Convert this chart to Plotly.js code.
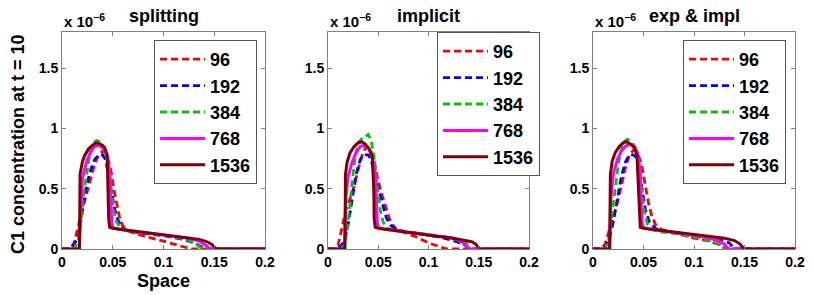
<!DOCTYPE html>
<html><head><meta charset="utf-8">
<script src="https://cdn.plot.ly/plotly-3.0.1.min.js"></script>
<style>html,body{margin:0;padding:0;background:#fff}#chart{width:814px;height:295px}</style>
</head><body><div id="chart"></div>
<script>
// Series labels (grid sizes) and panel titles
const seriesNames = ["96", "192", "384", "768", "1536"];
const panelTitles = ["splitting", "implicit", "exp & impl"];
const xTickVals = [0, 0.05, 0.1, 0.15, 0.2];
const yTickVals = [0, 0.5, 1, 1.5];

// Values are C1 concentration in units of 1e-6
// ---- Panel 1: splitting ----
const split96x = [0, 0.008, 0.012, 0.016, 0.02, 0.024, 0.028, 0.032, 0.036, 0.04, 0.044, 0.048, 0.051, 0.054, 0.057, 0.06, 0.065, 0.075, 0.09, 0.1, 0.11, 0.12, 0.128, 0.2];
const split96y = [0, 0, 0.05, 0.2, 0.33, 0.45, 0.58, 0.7, 0.78, 0.81, 0.79, 0.66, 0.5, 0.36, 0.25, 0.19, 0.15, 0.12, 0.09, 0.065, 0.04, 0.018, 0, 0];
const split192x = [0, 0.005, 0.01, 0.015, 0.018, 0.021, 0.024, 0.028, 0.032, 0.036, 0.04, 0.043, 0.046, 0.049, 0.052, 0.055, 0.06, 0.065, 0.08, 0.1, 0.12, 0.13, 0.137, 0.142, 0.2];
const split192y = [0, 0, 0.02, 0.08, 0.2, 0.38, 0.52, 0.65, 0.74, 0.78, 0.78, 0.74, 0.6, 0.45, 0.33, 0.24, 0.17, 0.15, 0.13, 0.11, 0.08, 0.05, 0.02, 0, 0];
const split384x = [0, 0.012, 0.016, 0.019, 0.022, 0.025, 0.028, 0.031, 0.034, 0.038, 0.042, 0.045, 0.048, 0.051, 0.054, 0.058, 0.065, 0.08, 0.1, 0.12, 0.13, 0.135, 0.138, 0.2];
const split384y = [0, 0, 0.08, 0.25, 0.5, 0.68, 0.82, 0.88, 0.9, 0.89, 0.84, 0.72, 0.5, 0.32, 0.22, 0.17, 0.15, 0.135, 0.115, 0.085, 0.055, 0.025, 0, 0];
const split768x = [0, 0.017, 0.0185, 0.02, 0.024, 0.028, 0.032, 0.036, 0.04, 0.044, 0.047, 0.048, 0.049, 0.05, 0.055, 0.07, 0.09, 0.11, 0.125, 0.135, 0.142, 0.146, 0.2];
const split768y = [0, 0, 0.3, 0.58, 0.72, 0.8, 0.85, 0.86, 0.84, 0.78, 0.65, 0.4, 0.22, 0.18, 0.165, 0.15, 0.13, 0.11, 0.09, 0.065, 0.03, 0, 0];
const split1536x = [0, 0.0172, 0.0178, 0.02, 0.022, 0.026, 0.03, 0.034, 0.038, 0.042, 0.0445, 0.0455, 0.046, 0.047, 0.05, 0.06, 0.075, 0.09, 0.105, 0.12, 0.135, 0.143, 0.148, 0.152, 0.2];
const split1536y = [0, 0, 0.62, 0.72, 0.77, 0.83, 0.86, 0.88, 0.87, 0.84, 0.78, 0.5, 0.25, 0.18, 0.172, 0.16, 0.145, 0.13, 0.115, 0.1, 0.08, 0.06, 0.035, 0, 0];

// ---- Panel 2: implicit ----
const impl96x = [0, 0.006, 0.01, 0.014, 0.018, 0.022, 0.026, 0.03, 0.034, 0.038, 0.042, 0.046, 0.05, 0.054, 0.058, 0.062, 0.068, 0.075, 0.088, 0.1, 0.11, 0.118, 0.2];
const impl96y = [0, 0, 0.03, 0.18, 0.33, 0.42, 0.52, 0.66, 0.78, 0.85, 0.83, 0.72, 0.56, 0.44, 0.33, 0.23, 0.16, 0.14, 0.1, 0.05, 0.02, 0, 0];
const impl192x = [0, 0.008, 0.012, 0.016, 0.02, 0.024, 0.028, 0.032, 0.035, 0.04, 0.043, 0.046, 0.05, 0.054, 0.058, 0.063, 0.07, 0.09, 0.11, 0.125, 0.135, 0.141, 0.2];
const impl192y = [0, 0, 0.02, 0.06, 0.2, 0.42, 0.62, 0.74, 0.78, 0.78, 0.74, 0.62, 0.5, 0.36, 0.26, 0.19, 0.155, 0.13, 0.1, 0.07, 0.04, 0, 0];
const impl384x = [0, 0.014, 0.018, 0.021, 0.024, 0.027, 0.03, 0.034, 0.037, 0.04, 0.043, 0.046, 0.049, 0.052, 0.055, 0.06, 0.07, 0.09, 0.11, 0.125, 0.135, 0.14, 0.144, 0.2];
const impl384y = [0, 0, 0.1, 0.3, 0.55, 0.76, 0.88, 0.92, 0.93, 0.95, 0.9, 0.75, 0.52, 0.32, 0.22, 0.17, 0.15, 0.13, 0.11, 0.085, 0.06, 0.03, 0, 0];
const impl768x = [0, 0.0165, 0.0175, 0.02, 0.024, 0.028, 0.032, 0.036, 0.04, 0.044, 0.047, 0.048, 0.049, 0.05, 0.055, 0.07, 0.09, 0.11, 0.125, 0.133, 0.138, 0.141, 0.2];
const impl768y = [0, 0, 0.4, 0.6, 0.72, 0.8, 0.85, 0.86, 0.84, 0.77, 0.62, 0.38, 0.22, 0.18, 0.165, 0.15, 0.13, 0.11, 0.09, 0.06, 0.025, 0, 0];
const impl1536x = [0, 0.0168, 0.0174, 0.019, 0.022, 0.026, 0.03, 0.0335, 0.037, 0.041, 0.044, 0.0455, 0.046, 0.047, 0.05, 0.06, 0.075, 0.09, 0.108, 0.12, 0.135, 0.143, 0.147, 0.151, 0.2];
const impl1536y = [0, 0, 0.62, 0.72, 0.8, 0.85, 0.88, 0.89, 0.87, 0.83, 0.77, 0.5, 0.25, 0.18, 0.172, 0.16, 0.14, 0.125, 0.105, 0.095, 0.075, 0.06, 0.04, 0, 0];

// ---- Panel 3: exp & impl ----
const expi96x = [0, 0.008, 0.012, 0.016, 0.02, 0.024, 0.028, 0.032, 0.036, 0.04, 0.044, 0.048, 0.052, 0.055, 0.058, 0.062, 0.068, 0.085, 0.1, 0.115, 0.125, 0.131, 0.2];
const expi96y = [0, 0, 0.04, 0.15, 0.27, 0.38, 0.52, 0.67, 0.78, 0.82, 0.8, 0.7, 0.52, 0.38, 0.28, 0.2, 0.16, 0.12, 0.09, 0.065, 0.035, 0, 0];
const expi192x = [0, 0.008, 0.012, 0.016, 0.02, 0.024, 0.028, 0.032, 0.036, 0.04, 0.043, 0.046, 0.049, 0.052, 0.056, 0.062, 0.07, 0.09, 0.11, 0.125, 0.135, 0.14, 0.2];
const expi192y = [0, 0, 0.02, 0.08, 0.22, 0.4, 0.6, 0.72, 0.78, 0.78, 0.76, 0.64, 0.46, 0.32, 0.22, 0.17, 0.15, 0.13, 0.105, 0.08, 0.05, 0, 0];
const expi384x = [0, 0.012, 0.016, 0.019, 0.022, 0.025, 0.028, 0.031, 0.034, 0.038, 0.042, 0.045, 0.048, 0.051, 0.054, 0.058, 0.065, 0.08, 0.1, 0.115, 0.125, 0.13, 0.2];
const expi384y = [0, 0, 0.1, 0.28, 0.5, 0.7, 0.83, 0.89, 0.91, 0.89, 0.84, 0.72, 0.5, 0.3, 0.2, 0.16, 0.145, 0.13, 0.1, 0.07, 0.04, 0, 0];
const expi768x = [0, 0.0165, 0.0175, 0.02, 0.024, 0.028, 0.032, 0.036, 0.04, 0.044, 0.0465, 0.0475, 0.0485, 0.05, 0.055, 0.07, 0.09, 0.11, 0.122, 0.13, 0.134, 0.2];
const expi768y = [0, 0, 0.4, 0.62, 0.74, 0.81, 0.85, 0.87, 0.86, 0.8, 0.66, 0.4, 0.22, 0.18, 0.165, 0.15, 0.125, 0.1, 0.075, 0.04, 0, 0];
const expi1536x = [0, 0.0165, 0.0172, 0.019, 0.022, 0.026, 0.03, 0.033, 0.037, 0.041, 0.0435, 0.045, 0.0458, 0.0468, 0.05, 0.06, 0.075, 0.09, 0.11, 0.13, 0.14, 0.145, 0.15, 0.2];
const expi1536y = [0, 0, 0.62, 0.73, 0.8, 0.85, 0.88, 0.89, 0.87, 0.84, 0.78, 0.5, 0.25, 0.18, 0.172, 0.16, 0.145, 0.13, 0.11, 0.09, 0.07, 0.045, 0, 0];

const panels = [
  [[split96x, split96y], [split192x, split192y], [split384x, split384y], [split768x, split768y], [split1536x, split1536y]],
  [[impl96x, impl96y], [impl192x, impl192y], [impl384x, impl384y], [impl768x, impl768y], [impl1536x, impl1536y]],
  [[expi96x, expi96y], [expi192x, expi192y], [expi384x, expi384y], [expi768x, expi768y], [expi1536x, expi1536y]]
];

const styles = [
  {color: "#ff0000", dash: "7px,4px", width: 2.8},
  {color: "#0000ff", dash: "7px,4px", width: 2.8},
  {color: "#00c800", dash: "7px,4px", width: 2.8},
  {color: "#ff00ff", dash: "solid", width: 3},
  {color: "#800000", dash: "solid", width: 3}
];

const FONT = "Liberation Sans, Arial, sans-serif";
const traces = [];
panels.forEach((series, p) => {
  series.forEach((s, i) => {
    traces.push({
      type: "scatter", mode: "lines",
      x: s[0], y: s[1],
      name: seriesNames[i],
      xaxis: p === 0 ? "x" : "x" + (p + 1),
      yaxis: p === 0 ? "y" : "y" + (p + 1),
      legend: p === 0 ? "legend" : "legend" + (p + 1),
      line: {color: styles[i].color, dash: styles[i].dash, width: styles[i].width},
      hoverinfo: "skip"
    });
  });
});

// plot area in pixels: left 62, right 795, top 32, bottom 249
const W = 814, H = 295, L = 62, R = 19, T = 32, B = 46;
const pw = W - L - R, ph = H - T - B;
const fx = px => (px - L) / pw;
const fy = py => (H - B - py) / ph;
const doms = [[fx(62), fx(265)], [fx(328), fx(529)], [fx(593), fx(795)]];

function xax(d, anchor) {
  return {domain: d, anchor: anchor, range: [0, 0.2], tickvals: xTickVals, ticktext: ["0", "0.05", "0.1", "0.15", "0.2"],
    ticks: "inside", ticklen: 4, tickcolor: "#808080", showline: true, linecolor: "#808080", linewidth: 1,
    mirror: "ticks", showgrid: false, zeroline: false, fixedrange: true,
    tickfont: {family: FONT, size: 14, color: "#000", weight: "bold"}};
}
function yax(anchor) {
  return {domain: [0, 1], anchor: anchor, range: [0, 1.8], tickvals: yTickVals, ticktext: ["0", "0.5", "1", "1.5"],
    ticks: "inside", ticklen: 4, tickcolor: "#808080", showline: true, linecolor: "#808080", linewidth: 1,
    mirror: "ticks", showgrid: false, zeroline: false, fixedrange: true,
    tickfont: {family: FONT, size: 14, color: "#000", weight: "bold"}};
}
function leg(xpx, ypx) {
  return {x: fx(xpx), y: fy(ypx), xanchor: "left", yanchor: "top", bgcolor: "#fff",
    bordercolor: "#555", borderwidth: 1, font: {family: FONT, size: 18, color: "#000", weight: "bold"},
    tracegroupgap: 0, itemwidth: 45};
}

const annotations = [];
panelTitles.forEach((t, p) => {
  const cx = (doms[p][0] + doms[p][1]) / 2;
  annotations.push({xref: "paper", yref: "paper", x: cx, y: fy(16), text: t, showarrow: false,
    xanchor: "center", yanchor: "middle", font: {family: FONT, size: 18, color: "#000", weight: "bold"}});
  annotations.push({xref: "paper", yref: "paper", x: doms[p][0], y: 1, yshift: 0, text: "x 10<sup>−6</sup>", showarrow: false,
    xanchor: "left", yanchor: "bottom", font: {family: FONT, size: 15, color: "#000", weight: "bold"}});
});
annotations.push({xref: "paper", yref: "paper", x: fx(18), y: fy(144), text: "C1 concentration at t = 10", textangle: -90,
  showarrow: false, xanchor: "center", yanchor: "middle", font: {family: FONT, size: 18, color: "#000", weight: "bold"}});
annotations.push({xref: "paper", yref: "paper", x: fx(163.5), y: fy(281), text: "Space",
  showarrow: false, xanchor: "center", yanchor: "middle", font: {family: FONT, size: 18, color: "#000", weight: "bold"}});

const layout = {
  width: W, height: H, margin: {l: L, r: R, t: T, b: B, pad: 0},
  paper_bgcolor: "#fff", plot_bgcolor: "#fff", showlegend: true,
  xaxis: xax(doms[0], "y"), yaxis: yax("x"),
  xaxis2: xax(doms[1], "y2"), yaxis2: yax("x2"),
  xaxis3: xax(doms[2], "y3"), yaxis3: yax("x3"),
  legend: leg(154, 40), legend2: leg(437, 32), legend3: leg(683, 40),
  annotations: annotations
};

Plotly.newPlot("chart", traces, layout, {staticPlot: true, displayModeBar: false});
</script></body></html>
